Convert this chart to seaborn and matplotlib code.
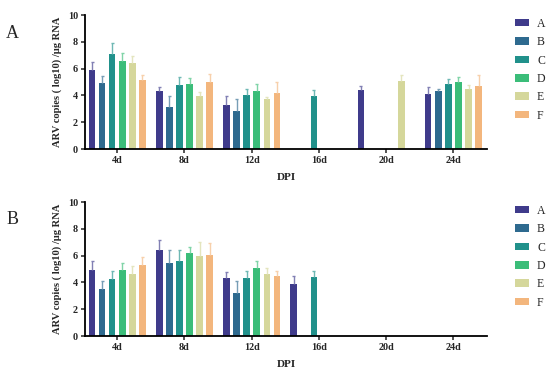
import numpy as np
import pandas as pd
import seaborn as sns
import matplotlib.pyplot as plt
from matplotlib.colors import to_rgb

days = ["4d", "8d", "12d", "16d", "20d", "24d"]
groups = ["A", "B", "C", "D", "E", "F"]
colors = ["#3f3b8b", "#2e6a8f", "#21918b", "#3bbd79", "#d5d79b", "#f3b67d"]

nan = np.nan
# rows = days, cols = groups
means_a = [[5.90, 4.95, 7.09, 6.54, 6.44, 5.15],
           [4.35, 3.16, 4.78, 4.85, 3.98, 5.00],
           [3.26, 2.84, 4.05, 4.35, 3.72, 4.20],
           [nan, nan, 3.98, nan, nan, nan],
           [4.38, nan, nan, nan, 5.10, nan],
           [4.10, 4.35, 4.88, 5.00, 4.48, 4.73]]
sd_a = [[0.60, 0.50, 0.80, 0.66, 0.50, 0.40],
        [0.30, 0.82, 0.62, 0.45, 0.27, 0.60],
        [0.70, 0.89, 0.40, 0.48, 0.20, 0.80],
        [nan, nan, 0.40, nan, nan, nan],
        [0.35, nan, nan, nan, 0.42, nan],
        [0.50, 0.10, 0.34, 0.35, 0.30, 0.79]]

means_b = [[4.90, 3.48, 4.28, 4.90, 4.65, 5.27],
           [6.39, 5.47, 5.60, 6.17, 5.97, 6.07],
           [4.30, 3.23, 4.33, 5.10, 4.60, 4.45],
           [3.86, nan, 4.38, nan, nan, nan],
           [nan, nan, nan, nan, nan, nan],
           [nan, nan, nan, nan, nan, nan]]
sd_b = [[0.67, 0.62, 0.57, 0.55, 0.60, 0.60],
        [0.80, 0.92, 0.84, 0.47, 1.02, 0.90],
        [0.50, 0.87, 0.55, 0.52, 0.47, 0.43],
        [0.59, nan, 0.50, nan, nan, nan],
        [nan, nan, nan, nan, nan, nan],
        [nan, nan, nan, nan, nan, nan]]

WIDTH = 0.9
SERIF = ["Liberation Serif", "DejaVu Serif"]


def to_long(means):
    rows = []
    for i, d in enumerate(days):
        for j, g in enumerate(groups):
            rows.append({"DPI": d, "group": g, "value": means[i][j]})
    return pd.DataFrame(rows)


def lighten(c, f=0.4):
    r, g, b = to_rgb(c)
    return (r + (1 - r) * f, g + (1 - g) * f, b + (1 - b) * f)


def draw_panel(ax, means, sds, letter, fig_y):
    df = to_long(means)
    sns.barplot(data=df, x="DPI", y="value", hue="group", order=days,
                hue_order=groups, palette=colors, width=WIDTH, gap=0.35,
                errorbar=None, saturation=1, ax=ax, linewidth=0)

    # upper error bars only
    slot = WIDTH / len(groups)
    for bar in ax.patches:
        h = bar.get_height()
        if not np.isfinite(h) or h == 0:
            continue
        cx = bar.get_x() + bar.get_width() / 2
        cat = int(round(cx))
        k = int(round((cx - cat + WIDTH / 2) / slot - 0.5))
        if cat < 0 or cat >= len(days) or k < 0 or k >= len(groups):
            continue
        e = sds[cat][k]
        if not np.isfinite(e):
            continue
        ec = lighten(colors[k], 0.35)
        ax.vlines(cx, h, h + e, color=ec, lw=1.0, zorder=1)
        ax.hlines(h + e, cx - 0.022, cx + 0.022, color=ec, lw=1.0, zorder=1)

    ax.set_xlim(-0.48, 5.5)
    ax.set_ylim(0, 10)
    ax.set_yticks([0, 2, 4, 6, 8, 10])
    ax.set_xlabel("DPI", fontsize=8, fontweight="bold", family=SERIF, labelpad=6)
    ax.set_ylabel("ARV copies ( log10) /μg RNA", fontsize=7.6, fontweight="bold",
                  family=SERIF, labelpad=4)
    for lab in ax.get_xticklabels() + ax.get_yticklabels():
        lab.set_fontfamily(SERIF)
        lab.set_fontweight("bold")
        lab.set_fontsize(7.3)
    ax.tick_params(axis="both", direction="out", length=3, width=1.1, pad=2)
    sns.despine(ax=ax)
    for s in ("left", "bottom"):
        ax.spines[s].set_linewidth(1.3)
        ax.spines[s].set_color("black")

    sns.move_legend(ax, "upper left", bbox_to_anchor=(1.057, 1.015), frameon=False,
                    title=None, prop={"family": SERIF, "size": 8.5},
                    handlelength=1.2, handleheight=0.6, labelspacing=0.54,
                    handletextpad=0.7, borderaxespad=0)

    ax.figure.text(0.023, fig_y, letter, fontsize=13, family=SERIF,
                   ha="center", va="center")


sns.set_style("ticks")
plt.rcParams["font.family"] = ["Liberation Serif", "DejaVu Serif"]

fig = plt.figure(figsize=(5.5, 3.74), dpi=100)
ax_a = fig.add_axes([0.1545, 0.6016, 0.731, 0.358])
ax_b = fig.add_axes([0.1545, 0.1016, 0.731, 0.358])

draw_panel(ax_a, means_a, sd_a, "A", 1 - 34 / 374)
draw_panel(ax_b, means_b, sd_b, "B", 1 - 220 / 374)

fig.savefig("out.png", dpi=100)
